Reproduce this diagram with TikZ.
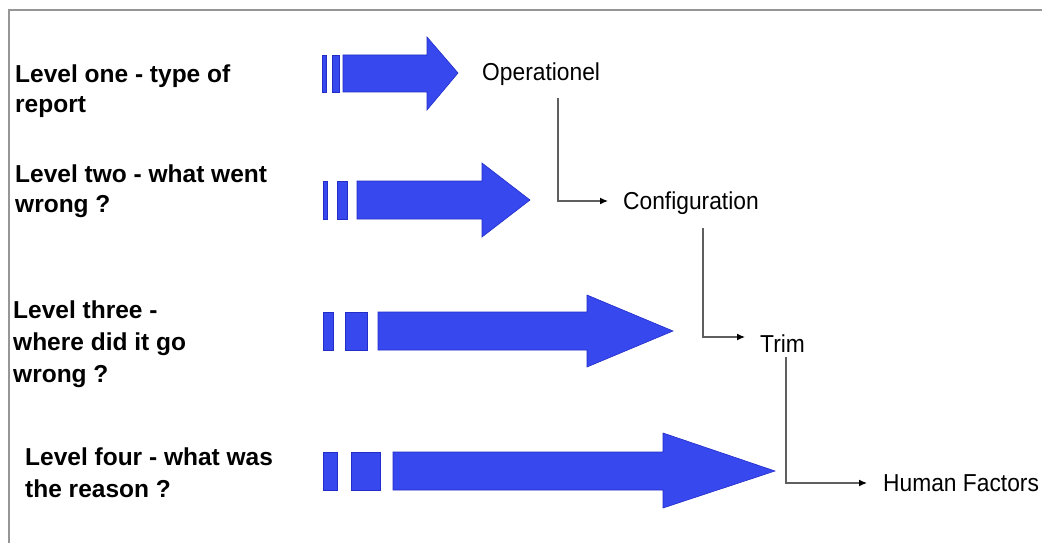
\documentclass[tikz,border=0pt]{standalone}
\usepackage{fontspec}
\setmainfont{Liberation Sans}
\newfontfamily\catfont[FakeStretch=0.93]{Liberation Sans}
\usetikzlibrary{arrows.meta,calc}
\definecolor{arrowblue}{RGB}{55,72,238}
\definecolor{arrowedge}{RGB}{35,45,200}
\definecolor{framegray}{RGB}{150,150,150}
\definecolor{conngray}{RGB}{95,95,95}
\begin{document}
\begin{tikzpicture}[x=1pt,y=-1pt,
  levellabel/.style={anchor=north west,inner sep=0pt,align=left,font=\bfseries\fontsize{24.5}{30}\selectfont},
  levellabelwide/.style={levellabel,font=\bfseries\fontsize{24.5}{32}\selectfont},
  category/.style={anchor=base west,inner sep=0pt,font=\catfont\fontsize{24.5}{28}\selectfont},
  blockarrow/.style={fill=arrowblue,draw=arrowedge,line width=0.6pt,line join=miter},
  conn/.style={draw=conngray,line width=1.3pt,-{Latex[length=8pt,width=7pt,black]}}]
\useasboundingbox (0,0) rectangle (1042,543);
\fill[white] (0,0) rectangle (1042,543);
% frame
\draw[framegray,line width=2pt] (1042,10) -- (9,10) -- (9,543);

% left labels
\node[levellabel] (l1) at (15,65) {Level one - type of\\report};
\node[levellabel] (l2) at (15,165) {Level two - what went\\wrong ?};
\node[levellabelwide] (l3) at (13,301) {Level three -\\where did it go\\wrong ?};
\node[levellabelwide] (l4) at (25,448) {Level four - what was\\the reason ?};

% block arrows
% arrow 1
\path[blockarrow] (322,55) rectangle (326,92);
\path[blockarrow] (332,55) rectangle (339,92);
\path[blockarrow] (343,55) -- (427,55) -- (427,37) -- (458,73) -- (427,110) -- (427,92) -- (343,92) -- cycle;
% arrow 2
\path[blockarrow] (323,181) rectangle (327,219);
\path[blockarrow] (337,181) rectangle (347,219);
\path[blockarrow] (357,181) -- (482,181) -- (482,163) -- (530,200) -- (482,237) -- (482,219) -- (357,219) -- cycle;
% arrow 3
\path[blockarrow] (323,312) rectangle (333,350);
\path[blockarrow] (345,312) rectangle (367,350);
\path[blockarrow] (378,312) -- (587,312) -- (587,295) -- (673,331) -- (587,367) -- (587,350) -- (378,350) -- cycle;
% arrow 4
\path[blockarrow] (323,452) rectangle (337,490);
\path[blockarrow] (351,452) rectangle (380,490);
\path[blockarrow] (393,452) -- (663,452) -- (663,433) -- (775,471) -- (663,508) -- (663,490) -- (393,490) -- cycle;

% category labels
\node[category] (op) at (482,81) {Operationel};
\node[category] (conf) at (623,209) {Configuration};
\node[category] (trim) at (760,352) {Trim};
\node[category] (hf) at (883,491) {Human Factors};

% connectors
\draw[conn] ($(op.base west)+(76,17)$) |- ($(conf.base west)+(-15,-8)$);
\draw[conn] ($(conf.base west)+(80,19)$) |- ($(trim.base west)+(-15,-15)$);
\draw[conn] ($(trim.base west)+(26,5)$) |- ($(hf.base west)+(-16,-8)$);
\end{tikzpicture}
\end{document}
